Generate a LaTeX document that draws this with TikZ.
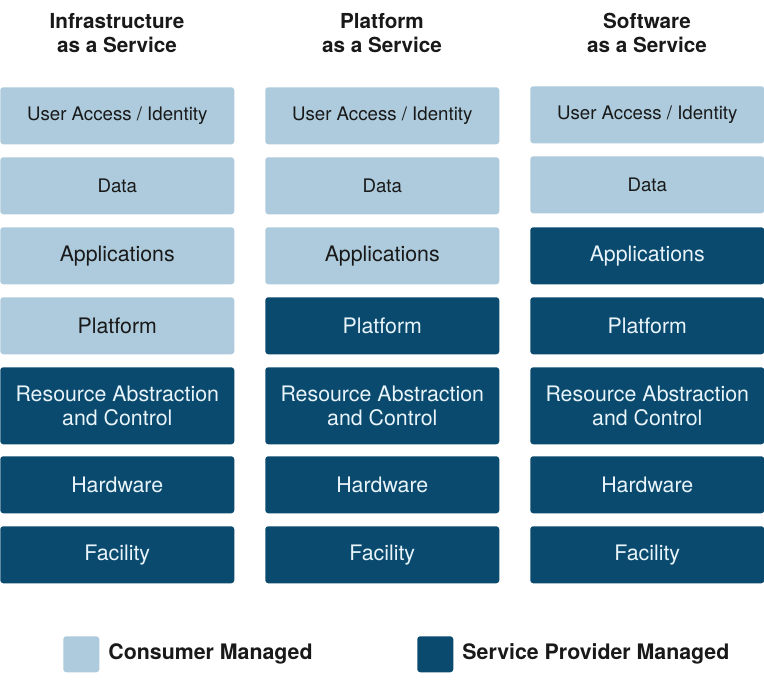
\documentclass[tikz,border=0pt]{standalone}
\usepackage{fontspec}
\setmainfont{TeX Gyre Heros}
\usetikzlibrary{positioning}
\definecolor{consumer}{HTML}{ADCBDC}
\definecolor{provider}{HTML}{0A4A6E}
\definecolor{providertext}{HTML}{E8F4FA}
\tikzset{
	layer/.style={rectangle, rounded corners=2.25pt, anchor=north west, inner sep=0pt,
		minimum width=175.5pt, minimum height=42.75pt, align=center,
		font=\fontsize{16}{18}\selectfont},
	tall/.style={minimum height=57.75pt},
	small/.style={font=\fontsize{14}{17}\selectfont},
	cons/.style={layer, fill=consumer, text=black!90},
	prov/.style={layer, fill=provider, text=providertext},
	heading/.style={align=center, font=\fontsize{15.5}{17.5}\selectfont\bfseries, text=black!90},
	keybox/.style={rectangle, rounded corners=2.25pt, inner sep=0pt, minimum size=27pt, anchor=north west},
	keytext/.style={anchor=west, inner sep=0pt, font=\fontsize{16}{18}\selectfont\bfseries, text=black!90}
}

\begin{document}
\begin{tikzpicture}[x=0.75pt, y=-0.75pt]
	\useasboundingbox[fill=white] (0,0) rectangle (764,684);
	\node[heading] (iaas) at (117,33) {Infrastructure\\as a Service};
	\node[heading] (paas) at (382,33) {Platform\\as a Service};
	\node[heading] (saas) at (647,33) {Software\\as a Service};

	\node[cons, small] (iaas-user) at (0,87) {User Access / Identity};
	\node[cons, small] (iaas-data) at (0,157) {Data};
	\node[cons] (iaas-apps) at (0,227) {Applications};
	\node[cons] (iaas-plat) at (0,297) {Platform};
	\node[prov, tall] (iaas-res) at (0,367) {Resource Abstraction\\and Control};
	\node[prov] (iaas-hw) at (0,456) {Hardware};
	\node[prov] (iaas-fac) at (0,526) {Facility};

	\node[cons, small] (paas-user) at (265,87) {User Access / Identity};
	\node[cons, small] (paas-data) at (265,157) {Data};
	\node[cons] (paas-apps) at (265,227) {Applications};
	\node[prov] (paas-plat) at (265,297) {Platform};
	\node[prov, tall] (paas-res) at (265,367) {Resource Abstraction\\and Control};
	\node[prov] (paas-hw) at (265,456) {Hardware};
	\node[prov] (paas-fac) at (265,526) {Facility};

	\node[cons, small] (saas-user) at (530,86) {User Access / Identity};
	\node[cons, small] (saas-data) at (530,156) {Data};
	\node[prov] (saas-apps) at (530,227) {Applications};
	\node[prov] (saas-plat) at (530,297) {Platform};
	\node[prov, tall] (saas-res) at (530,367) {Resource Abstraction\\and Control};
	\node[prov] (saas-hw) at (530,456) {Hardware};
	\node[prov] (saas-fac) at (530,526) {Facility};

	\node[keybox, fill=consumer] (key-cons) at (63,636) {};
	\node[keytext, right=6.5pt of key-cons.east] (key-cons-text) {Consumer Managed};
	\node[keybox, fill=provider] (key-prov) at (417,636) {};
	\node[keytext, right=6.5pt of key-prov.east] (key-prov-text) {Service Provider Managed};
\end{tikzpicture}
\end{document}
